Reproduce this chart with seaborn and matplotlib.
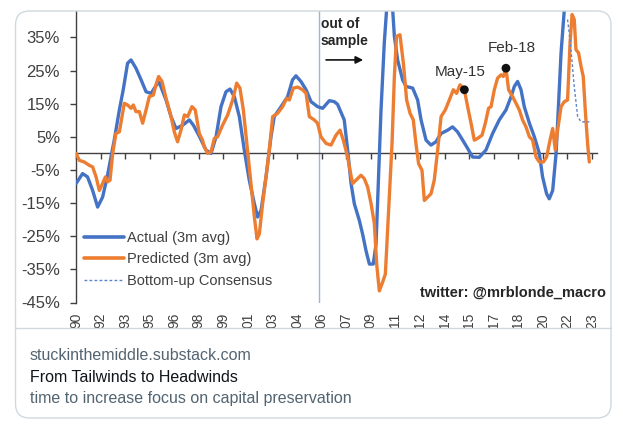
import numpy as np
import pandas as pd
import matplotlib
matplotlib.use("Agg")
import matplotlib.pyplot as plt
import seaborn as sns
from matplotlib.patches import FancyBboxPatch, Rectangle
from matplotlib.lines import Line2D
from matplotlib.transforms import IdentityTransform, Bbox

# ---------------- data ----------------
actual_year = [1990.42, 1990.84, 1991.16, 1991.49, 1991.81, 1992.13, 1992.45, 1992.67, 1992.88, 1993.21,
               1993.46, 1993.74, 1993.96, 1994.28, 1994.61, 1994.93, 1995.25, 1995.61, 1995.78, 1996.22,
               1996.54, 1996.86, 1997.29, 1997.72, 1997.98, 1998.36, 1998.79, 1999.12, 1999.44, 1999.76,
               2000.08, 2000.34, 2000.62, 2000.94, 2001.26, 2001.58, 2001.91, 2002.12, 2002.34, 2002.66,
               2002.98, 2003.19, 2003.63, 2004.05, 2004.37, 2004.59, 2004.91, 2005.24, 2005.56, 2005.98,
               2006.31, 2006.74, 2007.06, 2007.27, 2007.70, 2007.92, 2008.14, 2008.35, 2008.67, 2008.88,
               2009.10, 2009.32, 2009.57, 2009.75, 2009.91, 2010.07, 2010.28, 2010.43, 2010.63, 2010.82,
               2010.93, 2011.14, 2011.46, 2011.68, 2012.11, 2012.43, 2012.65, 2012.97, 2013.29, 2013.61,
               2013.94, 2014.36, 2014.68, 2015.00, 2015.33, 2015.65, 2015.97, 2016.40, 2016.83, 2017.26,
               2017.69, 2018.12, 2018.45, 2018.66, 2018.87, 2019.09, 2019.30, 2019.63, 2019.95, 2020.27,
               2020.48, 2020.74, 2020.91, 2021.13, 2021.35, 2021.49, 2021.67, 2021.88, 2022.05]
actual_pct = [-9.1, -6.1, -7.1, -11.2, -16.2, -13.2, -6.6, -1.1, 4.0, 13.1,
              19.2, 27.2, 28.2, 25.7, 22.2, 18.6, 18.1, 20.7, 21.4, 16.1,
              11.1, 7.5, 8.5, 10.1, 8.5, 5.2, 1.0, 0.0, 5.0, 14.1,
              18.6, 19.4, 17.1, 11.1, 1.0, -8.1, -15.2, -19.2, -17.2, -7.1,
              5.0, 11.1, 14.1, 17.1, 22.2, 23.4, 21.7, 19.2, 15.6, 14.1,
              13.6, 15.9, 15.6, 14.8, 10.1, 1.0, -9.1, -15.2, -20.2, -24.3,
              -29.3, -33.4, -33.4, -27.3, -7.1, 13.1, 33.3, 43.4, 52.0, 43.4,
              35.3, 28.2, 22.2, 20.2, 19.7, 16.1, 10.1, 4.0, 2.5, 3.5,
              6.0, 7.0, 8.0, 6.5, 4.0, 1.5, -1.1, -1.2, 1.0, 6.0,
              10.1, 13.1, 17.1, 20.2, 21.7, 19.2, 14.1, 9.1, 5.0, 0.0,
              -7.1, -12.2, -13.7, -11.2, 0.0, 13.1, 30.3, 43.4, 52.0]

pred_year = [1990.42, 1990.63, 1990.95, 1991.27, 1991.49, 1991.71, 1991.92, 1992.13, 1992.31, 1992.45,
             1992.61, 1992.78, 1992.99, 1993.21, 1993.38, 1993.53, 1993.74, 1993.96, 1994.11, 1994.28,
             1994.50, 1994.71, 1994.93, 1995.14, 1995.40, 1995.57, 1995.74, 1995.96, 1996.22, 1996.54,
             1996.75, 1996.96, 1997.18, 1997.40, 1997.61, 1997.89, 1998.10, 1998.36, 1998.57, 1998.68,
             1998.90, 1999.12, 1999.33, 1999.54, 1999.86, 2000.19, 2000.51, 2000.77, 2000.98, 2001.20,
             2001.47, 2001.69, 2001.91, 2002.08, 2002.23, 2002.44, 2002.66, 2002.87, 2003.09, 2003.41,
             2003.73, 2003.99, 2004.16, 2004.42, 2004.70, 2005.02, 2005.24, 2005.45, 2005.77, 2005.98,
             2006.20, 2006.53, 2006.85, 2007.17, 2007.43, 2007.64, 2007.92, 2008.07, 2008.24, 2008.46,
             2008.78, 2008.99, 2009.21, 2009.43, 2009.64, 2009.79, 2009.96, 2010.17, 2010.35, 2010.56,
             2010.78, 2010.93, 2011.07, 2011.29, 2011.51, 2011.72, 2011.94, 2012.15, 2012.32, 2012.49,
             2012.71, 2012.86, 2013.07, 2013.29, 2013.50, 2013.72, 2013.94, 2014.21, 2014.47, 2014.73,
             2014.94, 2015.16, 2015.44, 2015.65, 2015.87, 2016.08, 2016.29, 2016.58, 2016.79, 2017.00,
             2017.16, 2017.37, 2017.58, 2017.80, 2017.95, 2018.12, 2018.29, 2018.55, 2018.77, 2018.98,
             2019.19, 2019.41, 2019.63, 2019.84, 2020.06, 2020.27, 2020.53, 2020.74, 2020.96, 2021.13,
             2021.30, 2021.45, 2021.67, 2021.88, 2022.09, 2022.25, 2022.38, 2022.52, 2022.63, 2022.80,
             2022.96, 2023.10, 2023.23, 2023.38, 2023.49]
pred_pct = [0.0, -2.1, -2.6, -3.6, -4.1, -7.1, -11.2, -9.1, -7.1, -8.6,
            -8.1, 0.0, 6.0, 6.5, 11.1, 15.1, 14.6, 13.6, 14.6, 12.6,
            12.6, 9.1, 13.1, 17.1, 17.6, 20.7, 23.2, 21.7, 16.6, 11.1,
            6.5, 3.5, 7.0, 11.6, 11.1, 14.1, 13.1, 6.0, 4.0, 2.0,
            0.0, 0.5, 4.5, 5.0, 8.5, 11.6, 16.1, 21.2, 19.7, 13.1,
            1.0, -9.1, -19.2, -25.8, -24.3, -15.2, -7.1, 1.0, 11.1, 12.1,
            14.1, 16.6, 16.1, 19.7, 20.0, 19.2, 18.1, 11.1, 10.1, 9.1,
            5.0, 3.0, 2.5, 5.5, 7.0, 4.0, -1.1, -5.1, -9.1, -8.1,
            -6.6, -7.6, -10.2, -15.2, -21.2, -33.4, -41.5, -38.9, -36.4, -17.2,
            3.0, 23.2, 35.3, 35.8, 27.2, 16.1, 12.1, 10.1, 3.0, -3.1,
            -5.1, -14.2, -13.2, -12.2, -8.1, 1.0, 11.1, 13.1, 16.1, 19.2,
            18.1, 20.7, 19.2, 14.1, 9.1, 4.0, 4.5, 5.5, 9.1, 13.6,
            14.1, 19.2, 22.7, 23.7, 23.2, 25.7, 19.2, 17.1, 15.1, 13.1,
            10.1, 8.0, 5.0, 4.0, -1.1, -2.6, -2.6, -1.1, 4.0, 7.5,
            1.0, 7.0, 14.1, 15.6, 16.1, 33.3, 41.9, 40.4, 31.3, 30.3,
            26.2, 23.2, 13.1, 3.0, -2.6]

cons_year = [2022.09, 2022.27, 2022.52, 2022.74, 2022.96, 2023.49]
cons_pct = [40.4, 33.3, 20.2, 11.1, 9.5, 9.5]

mark_year = [2015.44, 2018.12]
mark_pct = [19.2, 25.7]
mark_labels = ["May-15", "Feb-18"]

tick_dates_str = ["Jun-90", "Jan-92", "Aug-93", "Mar-95", "Oct-96", "May-98", "Dec-99", "Jul-01",
                  "Feb-03", "Sep-04", "Apr-06", "Nov-07", "Jun-09", "Jan-11", "Aug-12", "Mar-14",
                  "Oct-15", "May-17", "Dec-18", "Jul-20", "Feb-22", "Sep-23"]
tick_labels = ["90", "92", "93", "95", "96", "98", "99", "01", "03", "04", "06",
               "07", "09", "11", "12", "14", "15", "17", "18", "20", "22", "23"]
y_ticks = [-45, -35, -25, -15, -5, 5, 15, 25, 35]
out_of_sample_year = 2006.05

card_source = "stuckinthemiddle.substack.com"
card_title = "From Tailwinds to Headwinds"
card_desc = "time to increase focus on capital preservation"

# ---------------- style ----------------
sns.set_theme(style="white")
plt.rcParams["font.family"] = ["Liberation Sans", "DejaVu Sans"]

BLUE = "#4472C4"
ORANGE = "#ED7D31"
AXC = "#404040"

W, H = 623, 433
fig = plt.figure(figsize=(W / 100, H / 100), dpi=100)
fig.patch.set_facecolor("white")

ax_left, ax_right, ax_top, ax_bot = 76.0, 597.0, 11.0, 302.5
ax = fig.add_axes([ax_left / W, 1 - ax_bot / H, (ax_right - ax_left) / W, (ax_bot - ax_top) / H])
ax.set_facecolor("white")

tick_dates = pd.to_datetime(tick_dates_str, format="%b-%y")
tick_pos = tick_dates.year + (tick_dates.month - 1) / 12.0

act_df = pd.DataFrame({"year": actual_year, "pct": actual_pct})
pred_df = pd.DataFrame({"year": pred_year, "pct": pred_pct})
cons_df = pd.DataFrame({"year": cons_year, "pct": cons_pct})
mark_df = pd.DataFrame({"year": mark_year, "pct": mark_pct})

ax.axvline(out_of_sample_year, color="#9DB5DB", lw=1.0, zorder=1)

sns.lineplot(data=act_df, x="year", y="pct", ax=ax, color=BLUE, lw=2.4, estimator=None,
             sort=False, zorder=3, solid_joinstyle="round", solid_capstyle="round")
sns.lineplot(data=pred_df, x="year", y="pct", ax=ax, color=ORANGE, lw=2.4, estimator=None,
             sort=False, zorder=4, solid_joinstyle="round", solid_capstyle="round")
sns.lineplot(data=cons_df, x="year", y="pct", ax=ax, color="#5B84C8", lw=1.0, estimator=None,
             sort=False, zorder=5, linestyle=(0, (2, 1.6)))
sns.scatterplot(data=mark_df, x="year", y="pct", ax=ax, color="#111111", s=40,
                edgecolor="none", zorder=6)
for xv, yv, lab, dx, dy in zip(mark_year, mark_pct, mark_labels, [-0.25, 0.4], [5.5, 6.1]):
    ax.text(xv + dx, yv + dy, lab, ha="center", va="center", fontsize=11, color="#333333")

ax.set_xlim(tick_pos[0], tick_pos[0] + (ax_right - ax_left) / 15.52)
ax.set_ylim(-45, (153.2 - ax_top) / 3.31)

# axes / spines
for s in ["top", "right"]:
    ax.spines[s].set_visible(False)
ax.spines["bottom"].set_position(("data", 0))
ax.spines["bottom"].set_color(AXC)
ax.spines["left"].set_color(AXC)
ax.spines["bottom"].set_linewidth(1.0)
ax.spines["left"].set_linewidth(1.0)
ax.set_xticks(tick_pos)
ax.set_xticklabels([])
ax.tick_params(axis="x", direction="out", length=4, width=1, color=AXC, bottom=True)
ax.set_yticks(y_ticks)
ax.set_yticklabels([f"{v}%" for v in y_ticks])
ax.tick_params(axis="y", direction="out", length=4.5, width=1, color=AXC, left=True,
               labelsize=12, labelcolor=AXC, pad=7)
ax.set_xlabel("")
ax.set_ylabel("")

sep_y = H - 327.5
sec = ax.secondary_xaxis(0.0)
sec.set_xticks(tick_pos)
sec.set_xticklabels(tick_labels, rotation=90, fontsize=10, color=AXC)
sec.tick_params(axis="x", length=0, pad=7.5)
sec.spines["bottom"].set_visible(False)
for lab in sec.get_xticklabels():
    lab.set_clip_on(True)
    lab.set_clip_box(Bbox.from_extents(0, sep_y, W, H))

# legend
handles = [Line2D([], [], color=BLUE, lw=2.6),
           Line2D([], [], color=ORANGE, lw=2.6),
           Line2D([], [], color="#5B84C8", lw=1.0, linestyle=(0, (2, 1.6)))]
leg = ax.legend(handles, ["Actual (3m avg)", "Predicted (3m avg)", "Bottom-up Consensus"],
                loc="upper left", bbox_to_anchor=(0.016, 0.245), frameon=False,
                fontsize=10.5, handlelength=2.75, handletextpad=0.15, labelspacing=0.5,
                borderpad=0, borderaxespad=0)
for t in leg.get_texts():
    t.set_color(AXC)

# watermark and out-of-sample annotation
ax.text(1.018, 0.035, "twitter: @mrblonde_macro", transform=ax.transAxes, ha="right",
        va="center", fontsize=10.5, fontweight="bold", color="#262626", clip_on=False)
ax.text(2006.2, 41.3, "out of\nsample", ha="left", va="top", fontsize=10, fontweight="bold",
        color="#262626", linespacing=1.35)
ax.annotate("", xy=(2009.1, 28.2), xytext=(2006.35, 28.2),
            arrowprops=dict(arrowstyle="-|>", color="#111111", lw=1.2, mutation_scale=11))

# ---------------- card ----------------
ident = IdentityTransform()
fig.patches.append(Rectangle((0, 0), W, sep_y, transform=ident, facecolor="white",
                             edgecolor="none", zorder=3))
fig.patches.append(Rectangle((0, H - 11), W, 11, transform=ident, facecolor="white",
                             edgecolor="none", zorder=3))
fig.lines.append(Line2D([15.5, 611], [sep_y, sep_y], transform=ident, color="#CFD9DE",
                        lw=1.0, zorder=4))
fig.patches.append(FancyBboxPatch((15.5, H - 418), 611 - 15.5, 418 - 11,
                                  boxstyle="round,pad=0,rounding_size=14", transform=ident,
                                  facecolor="none", edgecolor="#CFD9DE", lw=1.0, zorder=4))

fig.text(30 / W, 1 - 356 / H, card_source, ha="left", va="center", fontsize=11.5,
         color="#536471", zorder=5)
fig.text(30 / W, 1 - 378 / H, card_title, ha="left", va="center", fontsize=11.5,
         color="#0F1419", zorder=5)
fig.text(30 / W, 1 - 399 / H, card_desc, ha="left", va="center", fontsize=11.5,
         color="#536471", zorder=5)

fig.savefig("out.png", dpi=100, facecolor="white")
